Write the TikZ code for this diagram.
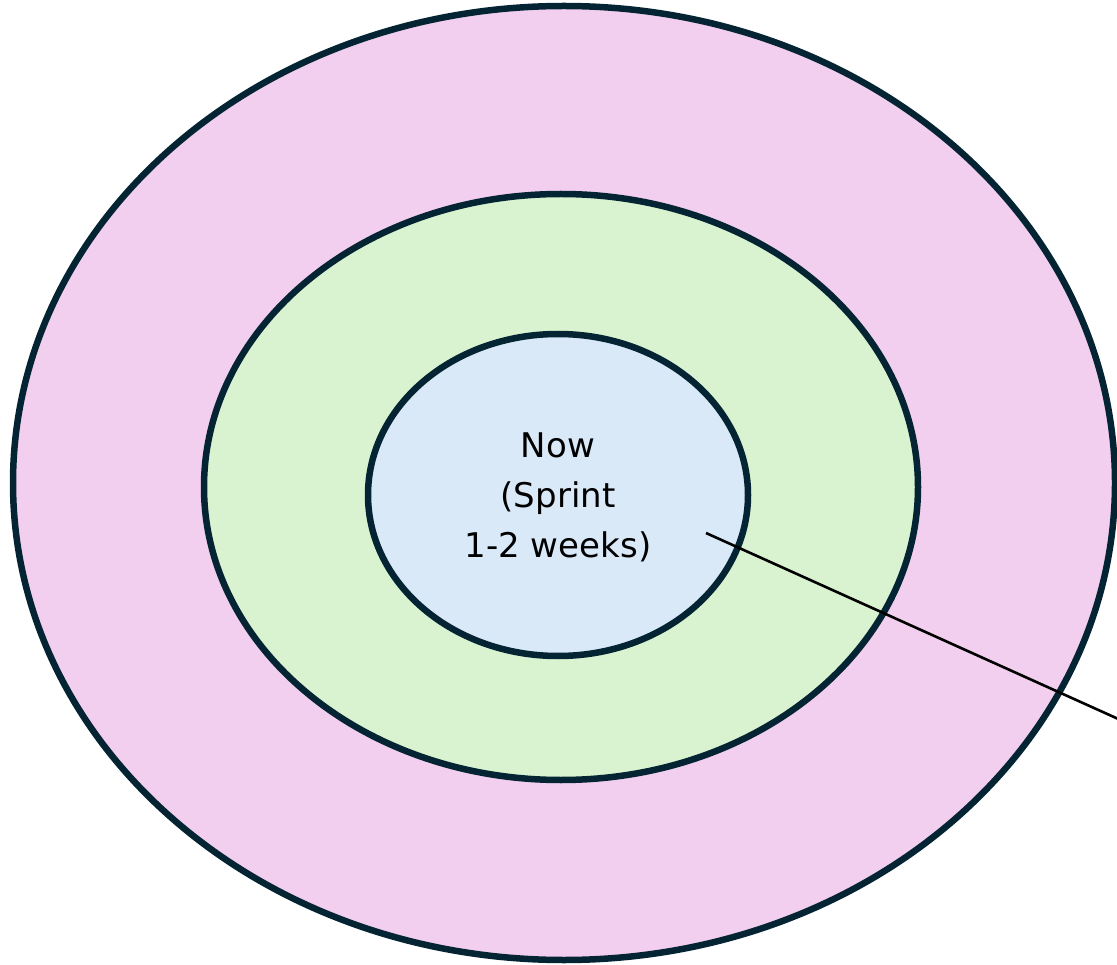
\documentclass[tikz,border=0pt]{standalone}
\usepackage{fontspec}
\setmainfont{DejaVu Sans}
\definecolor{ringline}{HTML}{042433}
\definecolor{outerfill}{HTML}{F2CFEE}
\definecolor{midfill}{HTML}{D9F2D0}
\definecolor{innerfill}{HTML}{DAE9F8}
\begin{document}
\begin{tikzpicture}[x=1pt,y=-1pt,
  ring/.style={draw=ringline,line width=6.5pt},
  pointer/.style={draw=black,line width=2.6pt}]
\useasboundingbox (0,0) rectangle (1117,965);
\draw[ring,fill=outerfill] (564,483) ellipse [x radius=551,y radius=477];
\draw[ring,fill=midfill] (561,487) ellipse [x radius=357,y radius=293];
\draw[ring,fill=innerfill] (558,495) ellipse [x radius=190,y radius=161];
\node[align=center,inner sep=0pt,font=\fontsize{34pt}{50pt}\selectfont] (label) at (558,497) {Now\\(Sprint\\1-2 weeks)};
\coordinate (start) at (706,533);
\coordinate (end) at (1125,722);
\draw[pointer] (start) -- (end);
\end{tikzpicture}
\end{document}
